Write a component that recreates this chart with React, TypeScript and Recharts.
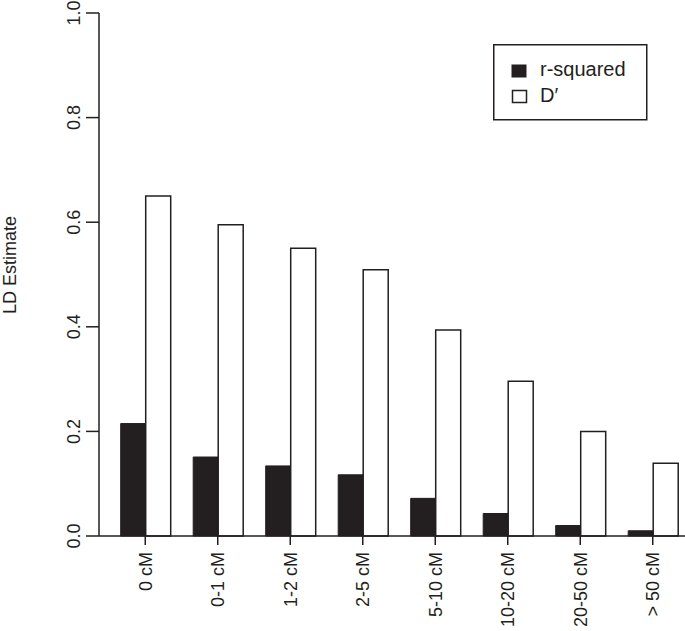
import { BarChart, Bar, XAxis, YAxis, Legend } from "recharts";

const categories = ["0 cM", "0-1 cM", "1-2 cM", "2-5 cM", "5-10 cM", "10-20 cM", "20-50 cM", "> 50 cM"];
const rSquared = [0.215, 0.151, 0.134, 0.117, 0.072, 0.043, 0.02, 0.01];
const dPrime = [0.65, 0.595, 0.55, 0.509, 0.394, 0.296, 0.2, 0.139];
const yTicks = [0, 0.2, 0.4, 0.6, 0.8, 1.0];

const data = categories.map((name, i) => ({ name, r2: rSquared[i], dp: dPrime[i] }));

const INK = "#231f20";
const FONT = '"Liberation Sans", Arial, sans-serif';

const YTick = (props: any) => {
  const { x, y, payload } = props;
  return (
    <text
      transform={`translate(${x - 6}, ${y}) rotate(-90)`}
      textAnchor="middle"
      fontSize={18}
      fontFamily={FONT}
      fill={INK}
    >
      {payload.value.toFixed(1)}
    </text>
  );
};

const XTick = (props: any) => {
  const { x, y, payload } = props;
  return (
    <text
      transform={`translate(${x + 6.5}, ${y + 7}) rotate(-90)`}
      textAnchor="end"
      fontSize={18}
      fontFamily={FONT}
      fill={INK}
    >
      {payload.value}
    </text>
  );
};

const LegendBox = () => (
  <svg width={155} height={77} style={{ display: "block" }}>
    <rect x={0.75} y={0.75} width={153} height={75} fill="white" stroke={INK} strokeWidth={1.5} />
    <rect x={19} y={21} width={14} height={12} fill={INK} stroke={INK} strokeWidth={1} />
    <text x={47} y={32} fontSize={20} fontFamily={FONT} fill={INK}>r-squared</text>
    <rect x={19.5} y={46.5} width={14} height={12} fill="white" stroke={INK} strokeWidth={1.5} />
    <text x={47} y={58} fontSize={20} fontFamily={FONT} fill={INK}>D′</text>
  </svg>
);

export default function App() {
  return (
    <div style={{ position: "absolute", left: 0, top: 0, width: 685, height: 631, overflow: "hidden" }}>
      <BarChart
        width={689}
        height={631}
        data={data}
        margin={{ top: 13, right: 0, bottom: 0, left: 0 }}
        barCategoryGap={11.7}
        barGap={0}
      >
        <XAxis
          dataKey="name"
          interval={0}
          height={95}
          padding={{ left: 10, right: 0 }}
          tickSize={9}
          tickMargin={0}
          tick={<XTick />}
          axisLine={{ stroke: INK, strokeWidth: 1.5 }}
          tickLine={{ stroke: INK, strokeWidth: 1.5 }}
        />
        <YAxis
          width={99}
          domain={[0, 1]}
          ticks={yTicks}
          tickSize={13}
          tickMargin={0}
          tick={<YTick />}
          axisLine={{ stroke: INK, strokeWidth: 1.5 }}
          tickLine={{ stroke: INK, strokeWidth: 1.5 }}
          label={{
            value: "LD Estimate",
            position: "insideLeft",
            content: () => (
              <text
                transform="translate(16, 265) rotate(-90)"
                textAnchor="middle"
                fontSize={18}
                fontFamily={FONT}
                fill={INK}
              >
                LD Estimate
              </text>
            ),
          }}
        />
        <Legend
          layout="horizontal"
          align="center"
          verticalAlign="middle"
          content={() => <LegendBox />}
          wrapperStyle={{ left: 493, top: 44, width: 155, height: 77 }}
        />
        <Bar dataKey="r2" name="r-squared" fill={INK} stroke={INK} strokeWidth={1} isAnimationActive={false} />
        <Bar dataKey="dp" name="D′" fill="white" stroke={INK} strokeWidth={1.5} isAnimationActive={false} />
      </BarChart>
    </div>
  );
}
